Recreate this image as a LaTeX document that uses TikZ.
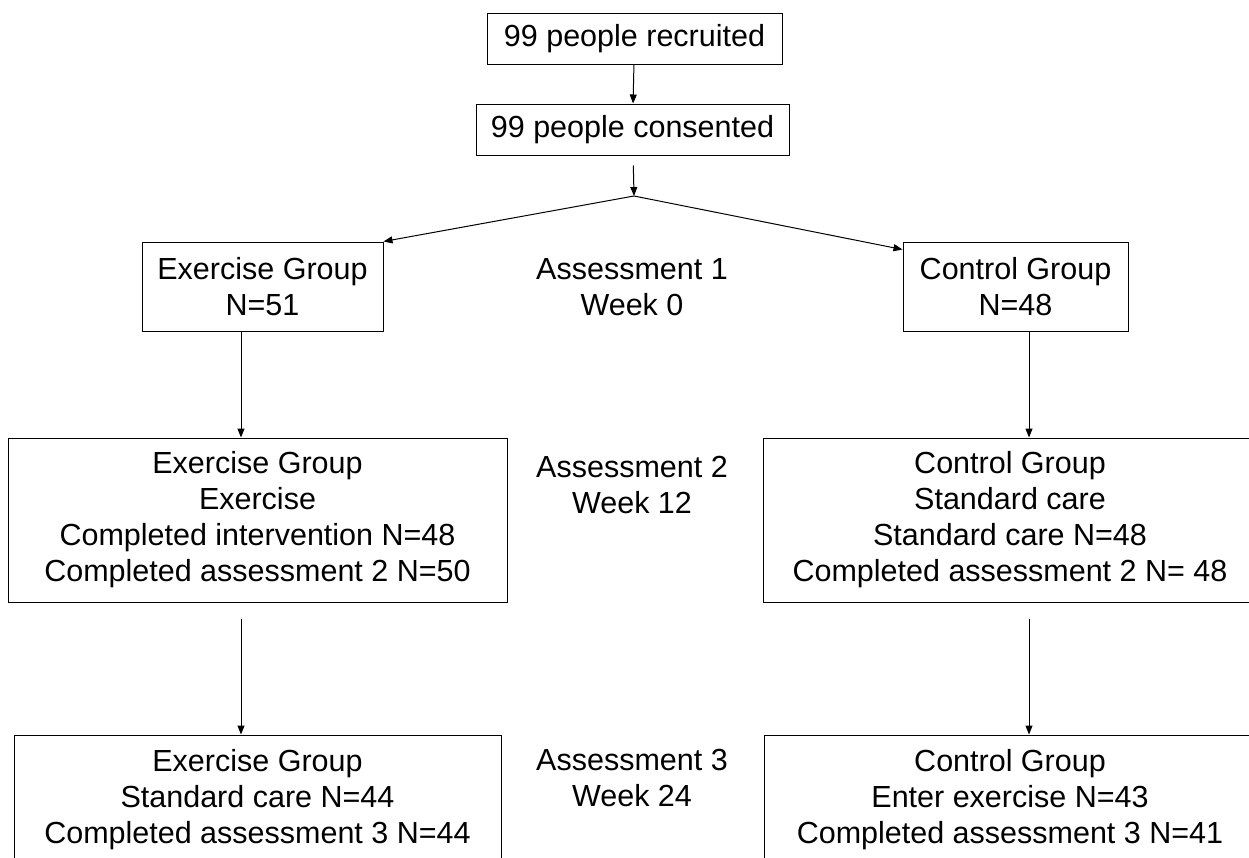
\documentclass[tikz,border=0pt]{standalone}
\usepackage{fontspec}
\setmainfont{Liberation Sans}
\usetikzlibrary{arrows.meta}

\tikzset{
  box/.style={draw, line width=1pt, align=center, inner sep=0pt,
    font=\fontsize{30.5}{36}\selectfont},
  lbl/.style={align=center, inner sep=0pt, font=\fontsize{30.5}{36}\selectfont},
  arr/.style={line width=1pt, -{Triangle[length=9pt,width=7pt]}}
}

\begin{document}
\begin{tikzpicture}[x=1pt, y=-1pt]
\useasboundingbox (0,0) rectangle (1249,857);
\clip (0,0) rectangle (1249,857);

\node[box, minimum width=295, minimum height=51] (recruited) at (634.5,38.5) {99 people recruited};
\node[box, minimum width=313, minimum height=51] (consented) at (632.5,129.5) {99 people consented};
\coordinate (split) at (634,196);

\node[box, minimum width=241, minimum height=89] (exA) at (262.5,286.5) {Exercise Group\\N=51};
\node[box, minimum width=225, minimum height=89] (ctlA) at (1015.5,286.5) {Control Group\\N=48};
\node[lbl] (asA) at (632,287) {Assessment 1\\Week 0};

\node[box, minimum width=499, minimum height=164] (exB) at (257.5,520)
  {Exercise Group\\Exercise\\Completed intervention N=48\\Completed assessment 2 N=50};
\node[box, minimum width=494, minimum height=164] (ctlB) at (1010,520)
  {Control Group\\Standard care\\Standard care N=48\\Completed assessment 2 N= 48};
\node[lbl] (asB) at (632,485) {Assessment 2\\Week 12};

\node[box, minimum width=487, minimum height=130] (exC) at (257.5,800)
  {Exercise Group\\Standard care N=44\\Completed assessment 3 N=44};
\node[box, minimum width=492, minimum height=130] (ctlC) at (1010,800)
  {Control Group\\Enter exercise N=43\\Completed assessment 3 N=41};
\node[lbl] (asC) at (632,778) {Assessment 3\\Week 24};

\coordinate (colL) at (241,0);
\coordinate (colR) at (1029,0);

\draw[arr] (recruited) -- (consented);
\draw[arr, shorten <=10pt] (consented) -- (split);
\draw[arr] (split) -- (exA.north east);
\draw[arr] (split) -- ([yshift=-8pt]ctlA.north west);
\draw[arr] (exA.south -| colL) -- (exB.north -| colL);
\draw[arr] (ctlA.south -| colR) -- (ctlB.north -| colR);
\draw[arr, shorten <=16pt] (exB.south -| colL) -- (exC.north -| colL);
\draw[arr, shorten <=16pt] (ctlB.south -| colR) -- (ctlC.north -| colR);
\end{tikzpicture}
\end{document}
